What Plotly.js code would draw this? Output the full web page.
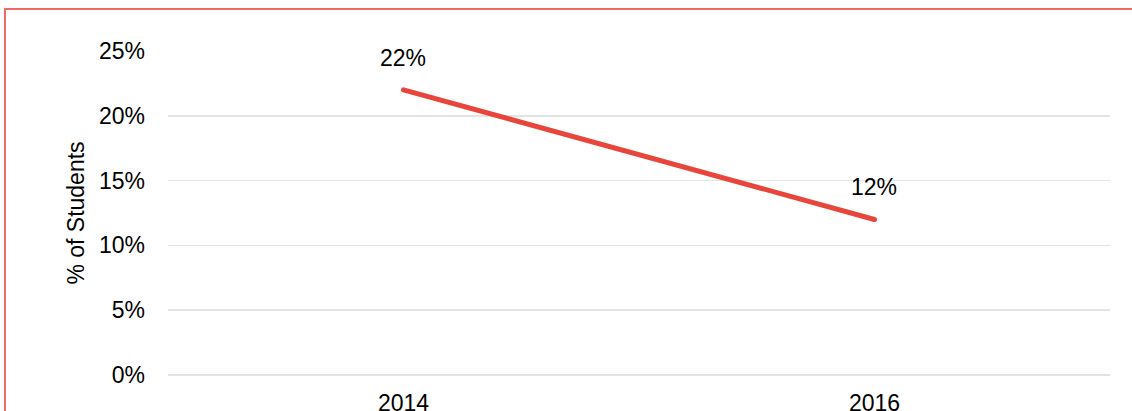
<!DOCTYPE html>
<html><head><meta charset="utf-8">
<script src="https://cdn.plot.ly/plotly-3.0.1.min.js"></script>
<style>
html,body{margin:0;padding:0;background:#fff;overflow:hidden;}
#chart{width:1132px;height:411px;position:relative;}
#frame{position:absolute;left:4px;top:8px;width:1200px;height:600px;border:2px solid #EE6A64;box-sizing:border-box;pointer-events:none;}
#chart .scatterlayer path.js-line{stroke-linecap:round;}
</style></head>
<body>
<div id="chart"></div>
<div id="frame"></div>
<script>
const years = ['2014', '2016'];
const values = [0.22, 0.12];
const valueLabels = ['22%', '12%'];
const yTicks = [0, 0.05, 0.10, 0.15, 0.20, 0.25];
const yTickLabels = ['0%', '5%', '10%', '15%', '20%', '25%'];

const FONT = 'Liberation Sans, Arial, sans-serif';
const trace = {
  x: years, y: values, type: 'scatter', mode: 'lines',
  line: {color: '#E8463D', width: 5}, hoverinfo: 'skip'
};
const annotations = years.map((yr, i) => ({
  x: i, y: values[i], text: valueLabels[i], showarrow: false,
  xref: 'x', yref: 'y', yshift: 32, xshift: -1,
  font: {family: FONT, size: 23, color: '#000'}
}));
const layout = {
  width: 1132, height: 411,
  margin: {l: 168, r: 22, t: 51, b: 36},
  paper_bgcolor: '#fff', plot_bgcolor: '#fff',
  showlegend: false,
  font: {family: FONT, size: 23, color: '#000'},
  xaxis: {
    type: 'category', range: [-0.5, 1.5], showgrid: false, zeroline: false,
    showline: false, ticks: '', ticklabelstandoff: 12,
    tickfont: {size: 23, color: '#000'}
  },
  yaxis: {
    range: [0, 0.25], tickvals: yTicks, ticktext: yTickLabels,
    showgrid: true, gridcolor: '#E3E3E3', gridwidth: 1.5,
    zeroline: true, zerolinecolor: '#E3E3E3', zerolinewidth: 1.5,
    showline: false, ticks: '', ticklabelstandoff: 22,
    tickfont: {size: 23, color: '#000'},
    title: {text: '% of Students', font: {size: 23, color: '#000'}, standoff: 7}
  },
  annotations: annotations
};
Plotly.newPlot('chart', [trace], layout, {displayModeBar: false, staticPlot: true});
</script>
</body></html>
